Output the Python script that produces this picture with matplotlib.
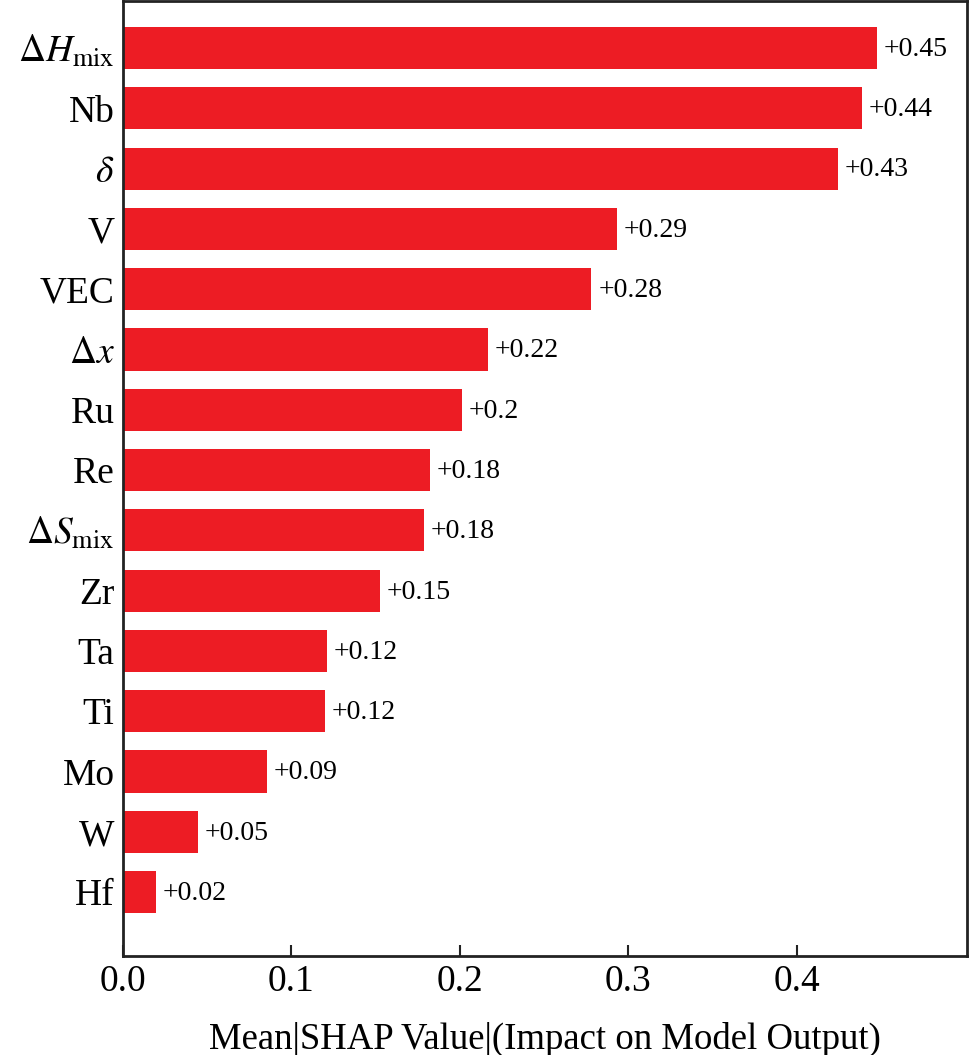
import matplotlib.pyplot as plt
import numpy as np

plt.rcParams['font.family'] = ['Liberation Serif', 'DejaVu Serif']
plt.rcParams['mathtext.fontset'] = 'stix'

# features from top to bottom
features = [r'$\Delta H_{\rm mix}$', 'Nb', r'$\delta$', 'V', 'VEC', r'$\Delta x$', 'Ru', 'Re',
            r'$\Delta S_{\rm mix}$', 'Zr', 'Ta', 'Ti', 'Mo', 'W', 'Hf']
shap_vals = [0.4475, 0.4386, 0.4243, 0.293, 0.278, 0.2166, 0.201, 0.182,
             0.1786, 0.1525, 0.121, 0.120, 0.0855, 0.0445, 0.0196]
val_labels = ['+0.45', '+0.44', '+0.43', '+0.29', '+0.28', '+0.22', '+0.2', '+0.18',
              '+0.18', '+0.15', '+0.12', '+0.12', '+0.09', '+0.05', '+0.02']
xticks = [0.0, 0.1, 0.2, 0.3, 0.4]

W, H = 969, 1055
fig = plt.figure(figsize=(W / 100, H / 100), dpi=100)
ax = fig.add_axes([123 / W, (H - 956) / H, (967 - 123) / W, (956 - 1) / H])

ypos = np.arange(len(features))[::-1]
ax.barh(ypos, shap_vals, height=0.7, color='#ED1C24')
for y, v, lab in zip(ypos, shap_vals, val_labels):
    ax.annotate(lab, (v, y), xytext=(5, -1), textcoords='offset points',
                va='center', ha='left', fontsize=20)

ax.set_xlim(0, 0.501)
ax.set_ylim(-1.06, 14.78)
ax.set_yticks(ypos)
ax.set_yticklabels(features, fontsize=27)
ax.tick_params(axis='y', length=0, pad=6)
ax.set_xticks(xticks)
ax.set_xticklabels(['%.1f' % t for t in xticks], fontsize=27)
ax.tick_params(axis='x', direction='in', length=8, width=1.5, pad=6, color='#222222')
for s in ax.spines.values():
    s.set_linewidth(2)
    s.set_color('#222222')

ax.set_xlabel('Mean|SHAP Value|(Impact on Model Output)', fontsize=26.5)
ax.xaxis.set_label_coords(0.5, -0.069)

fig.savefig('out.png', dpi=100)
